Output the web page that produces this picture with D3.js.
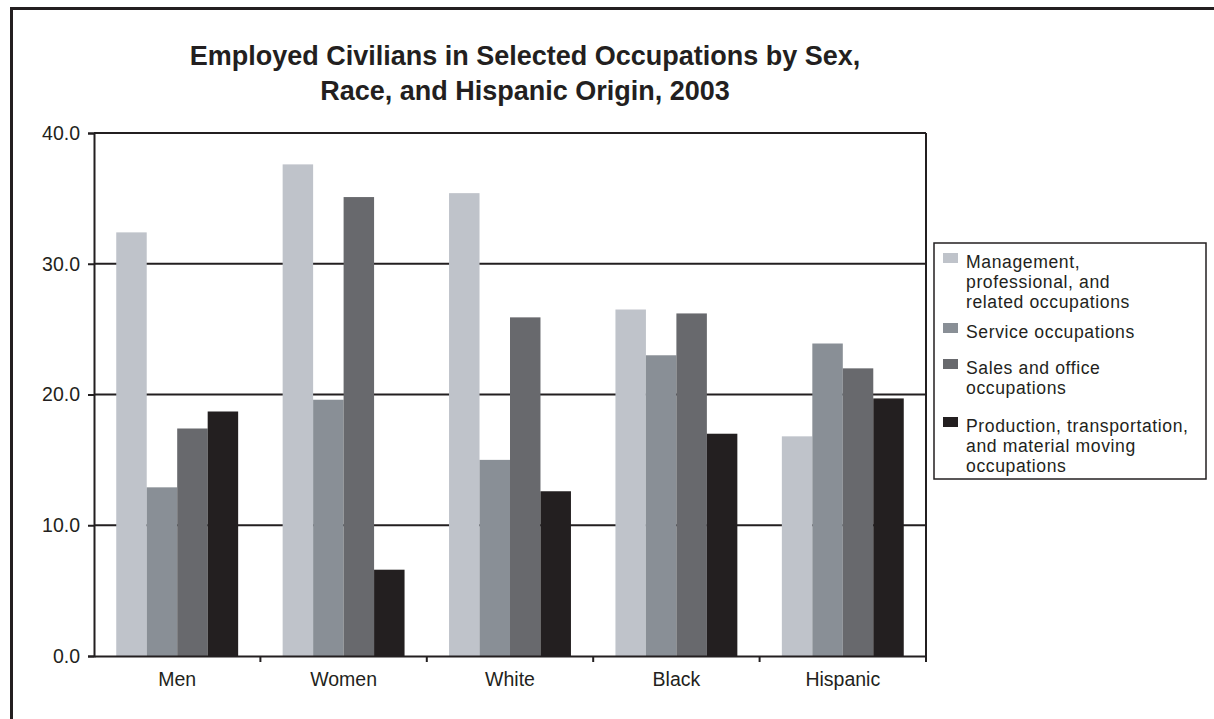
<!DOCTYPE html>
<html><head><meta charset="utf-8">
<script src="https://cdn.jsdelivr.net/npm/d3@7"></script>
<style>body{margin:0;background:#fff}svg{display:block;font-family:"Liberation Sans",Arial,sans-serif}</style>
</head><body><svg id="c" width="1214" height="719"></svg>
<script>
const categories = ["Men","Women","White","Black","Hispanic"];
const seriesNames = ["Management, professional, and related occupations","Service occupations","Sales and office occupations","Production, transportation, and material moving occupations"];
const management = [32.4, 37.6, 35.4, 26.5, 16.8];
const service    = [12.9, 19.6, 15.0, 23.0, 23.9];
const sales      = [17.4, 35.1, 25.9, 26.2, 22.0];
const production = [18.7, 6.6, 12.6, 17.0, 19.7];
const yTicks = [0, 10, 20, 30, 40];
const legendLines = [["Management,","professional, and","related occupations"],["Service occupations"],["Sales and office","occupations"],["Production, transportation,","and material moving","occupations"]];
const titleLines = ["Employed Civilians in Selected Occupations by Sex,","Race, and Hispanic Origin, 2003"];
const colors = ["#bfc3ca","#898f96","#68696d","#231f20"];
const seriesValues = [management, service, sales, production];

const svg = d3.select("#c");
const dark = "#231f20";
// outer frame
svg.append("rect").attr("x",11.5).attr("y",8.5).attr("width",1240).attr("height",740)
  .attr("fill","none").attr("stroke",dark).attr("stroke-width",3);

// title
svg.append("g").selectAll("text").data(titleLines).join("text")
  .attr("x",525).attr("y",(d,i)=>65+i*35).attr("text-anchor","middle")
  .attr("font-weight","bold").attr("font-size",27).attr("fill",dark).text(d=>d);

const L=94, R=926, T=133, B=656;
const x0 = d3.scaleBand().domain(categories).range([L,R]).padding(0);
const x1 = d3.scaleBand().domain(d3.range(4)).range([0,x0.bandwidth()]).paddingInner(0).paddingOuter(0.73);
const y = d3.scaleLinear().domain([0,40]).range([B,T]);

// gridlines
svg.append("g").selectAll("line").data(yTicks.filter(t=>t>0)).join("line")
  .attr("x1",L).attr("x2",R).attr("y1",d=>y(d)).attr("y2",d=>y(d))
  .attr("stroke",dark).attr("stroke-width",2);
// right border
svg.append("line").attr("x1",R).attr("x2",R).attr("y1",T).attr("y2",B).attr("stroke",dark).attr("stroke-width",2);

// bars
const data = [];
categories.forEach((c,ci)=>seriesValues.forEach((s,si)=>data.push({c,si,v:s[ci]})));
svg.append("g").selectAll("rect").data(data).join("rect")
  .attr("x",d=>x0(d.c)+x1(d.si)).attr("width",x1.bandwidth())
  .attr("y",d=>y(d.v)).attr("height",d=>B-y(d.v)).attr("fill",d=>colors[d.si]);

// y axis
const ya = svg.append("g").attr("transform",`translate(${L},0)`)
  .call(d3.axisLeft(y).tickValues(yTicks).tickFormat(d3.format(".1f")).tickSize(6).tickPadding(8));
ya.select(".domain").attr("stroke",dark).attr("stroke-width",2);
ya.selectAll(".tick line").attr("stroke",dark).attr("stroke-width",2);
ya.selectAll(".tick text").attr("font-size",19.5).attr("fill",dark).attr("font-family","Liberation Sans, Arial, sans-serif");

// x axis
const xa = svg.append("g").attr("transform",`translate(0,${B})`)
  .call(d3.axisBottom(x0).tickSize(0).tickPadding(16));
xa.select(".domain").attr("stroke",dark).attr("stroke-width",2);
xa.selectAll(".tick text").attr("font-size",19.5).attr("fill",dark).attr("font-family","Liberation Sans, Arial, sans-serif");
svg.append("g").selectAll("line").data(categories).join("line")
  .attr("x1",d=>x0(d)+x0.bandwidth()).attr("x2",d=>x0(d)+x0.bandwidth())
  .attr("y1",B).attr("y2",B+6).attr("stroke",dark).attr("stroke-width",2);

// legend
svg.append("rect").attr("x",934).attr("y",243).attr("width",272).attr("height",236)
  .attr("fill","#fff").attr("stroke",dark).attr("stroke-width",1.5);
const legTops = [268, 338, 374, 432];
const lg = svg.append("g").selectAll("g").data(legendLines).join("g");
lg.append("rect").attr("x",943).attr("y",(d,i)=>legTops[i]-15).attr("width",15).attr("height",10)
  .attr("fill",(d,i)=>colors[i]);
lg.each(function(lines,i){
  d3.select(this).selectAll("text").data(lines).join("text")
    .attr("x",966).attr("y",(d,j)=>legTops[i]+j*19.8)
    .attr("font-size",17.6).attr("letter-spacing",0.6).attr("fill",dark).text(d=>d);
});
</script></body></html>
